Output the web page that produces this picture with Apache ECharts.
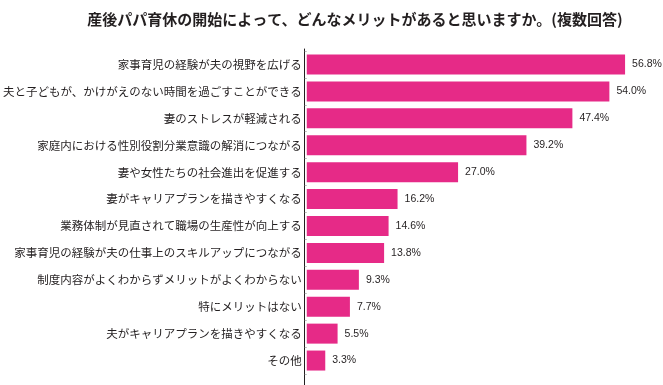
<!DOCTYPE html>
<html><head><meta charset="utf-8">
<script src="https://cdn.jsdelivr.net/npm/echarts@6/dist/echarts.min.js"></script>
<style>html,body{margin:0;padding:0;background:#fff}#c{width:663px;height:385px}</style>
</head><body><div id="c"></div>
<script>
const titleText = '産後パパ育休の開始によって、どんなメリットがあると思いますか。(複数回答)';
const categories = [
  '家事育児の経験が夫の視野を広げる',
  '夫と子どもが、かけがえのない時間を過ごすことができる',
  '妻のストレスが軽減される',
  '家庭内における性別役割分業意識の解消につながる',
  '妻や女性たちの社会進出を促進する',
  '妻がキャリアプランを描きやすくなる',
  '業務体制が見直されて職場の生産性が向上する',
  '家事育児の経験が夫の仕事上のスキルアップにつながる',
  '制度内容がよくわからずメリットがよくわからない',
  '特にメリットはない',
  '夫がキャリアプランを描きやすくなる',
  'その他'
];
const values = [56.8, 54.0, 47.4, 39.2, 27.0, 16.2, 14.6, 13.8, 9.3, 7.7, 5.5, 3.3];

const font = '"Noto Sans CJK JP", "Noto Sans", sans-serif';
const chart = echarts.init(document.getElementById('c'), null, {renderer: 'canvas'});
chart.setOption({
  animation: false,
  backgroundColor: '#fff',
  title: {
    text: titleText, left: 350, textAlign: 'center', top: 7,
    textStyle: {fontFamily: font, fontSize: 15, fontWeight: 'bold', color: '#231f20'}
  },
  grid: [
    {left: 304, top: 51, width: 339, height: 323},
    {left: 304, top: 49, width: 339, height: 340}
  ],
  xAxis: [
    {gridIndex: 0, type: 'value', min: 0, max: 60, show: false},
    {gridIndex: 1, type: 'value', min: 0, max: 60, show: false}
  ],
  yAxis: [
    {
      gridIndex: 0, type: 'category', data: categories, inverse: true,
      axisLine: {show: false},
      axisTick: {show: true, length: 2, lineStyle: {color: '#bbb'}},
      axisLabel: {fontFamily: font, fontSize: 11.5, color: '#231f20', margin: 5}
    },
    {
      gridIndex: 1, type: 'value', min: 0, max: 1,
      axisLine: {show: true, lineStyle: {color: '#231f20', width: 1}},
      axisTick: {show: false}, axisLabel: {show: false}, splitLine: {show: false}
    }
  ],
  series: [{
    type: 'bar', xAxisIndex: 0, yAxisIndex: 0,
    data: values, barWidth: 20,
    itemStyle: {color: '#e62a87'},
    label: {
      show: true, position: 'right', distance: 7,
      fontFamily: '"Liberation Sans", Arial, sans-serif', fontSize: 10.5, color: '#231f20',
      formatter: p => p.value.toFixed(1) + '%'
    }
  }]
});
</script></body></html>
